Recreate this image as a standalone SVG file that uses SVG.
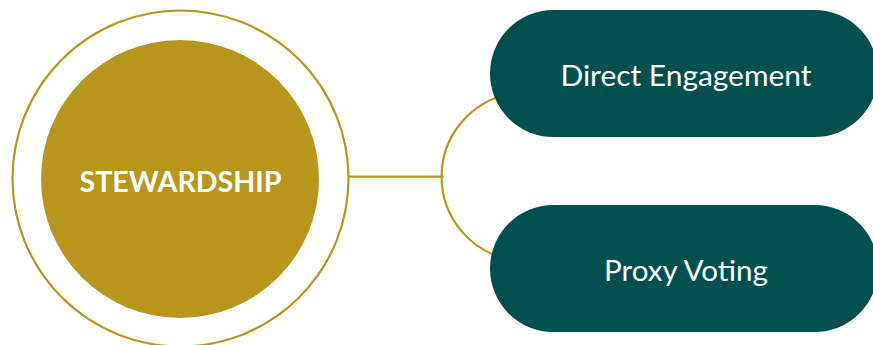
<svg xmlns="http://www.w3.org/2000/svg" width="873" height="345" viewBox="0 0 873 345">
  <style>
    .gold-line { fill: none; stroke: #B8961D; stroke-width: 2.2; }
    .pill { fill: #02504D; }
    .pill-text { fill: #FFFFFF; font-family: Lato, "Open Sans", "Liberation Sans", sans-serif; font-size: 29px; text-anchor: middle; }
    .hub-text { fill: #FFFFFF; font-family: Lato, "Open Sans", "Liberation Sans", sans-serif; font-size: 29px; font-weight: bold; text-anchor: middle; }
  </style>
  <rect width="873" height="345" fill="#FFFFFF"/>
  <g id="connectors">
    <line class="gold-line" x1="349" y1="176.7" x2="443.5" y2="176.7"/>
    <path class="gold-line" d="M 510 94 A 84.2 84.2 0 0 0 510 259.4"/>
  </g>
  <g id="stewardship">
    <circle cx="180.5" cy="178.5" r="168" fill="none" stroke="#B8961D" stroke-width="2.2"/>
    <circle cx="180" cy="179" r="139" fill="#B8961D"/>
    <text class="hub-text" x="180.5" y="192" textLength="202" lengthAdjust="spacingAndGlyphs">STEWARDSHIP</text>
  </g>
  <g id="direct-engagement">
    <rect class="pill" x="490" y="10" width="388" height="127" rx="63.5" ry="63.5"/>
    <text class="pill-text" x="686" y="86" textLength="251" lengthAdjust="spacingAndGlyphs">Direct Engagement</text>
  </g>
  <g id="proxy-voting">
    <rect class="pill" x="490" y="205" width="388" height="127" rx="63.5" ry="63.5"/>
    <text class="pill-text" x="686" y="281" textLength="164" lengthAdjust="spacingAndGlyphs">Proxy Voting</text>
  </g>
</svg>
